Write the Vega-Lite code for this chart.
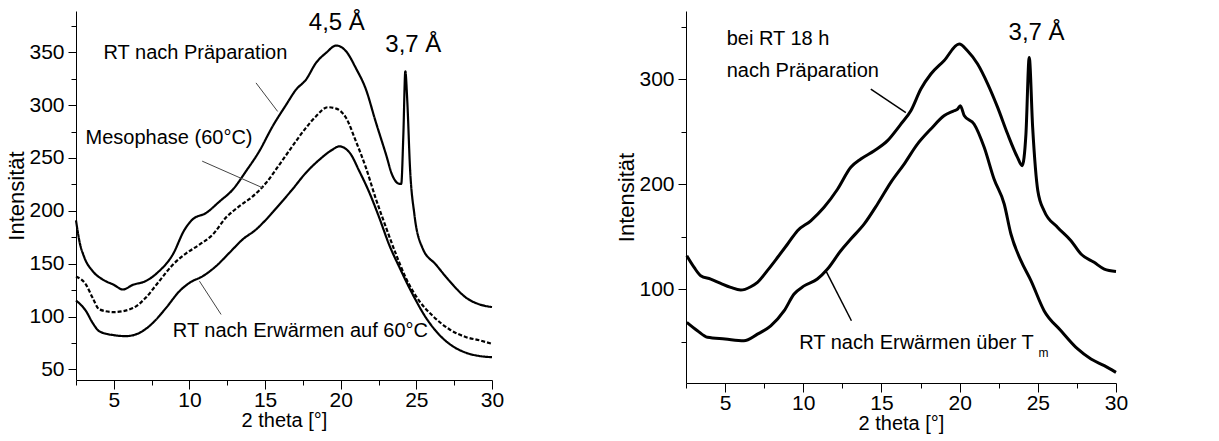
{
  "$schema": "https://vega.github.io/schema/vega-lite/v6.json",
  "padding": {"left": 5, "top": 10, "right": 5, "bottom": 5},
  "spacing": 111,
  "config": {
    "view": {"stroke": null},
    "axis": {"grid": false, "labelFlush": false, "domainColor": "#000", "tickColor": "#000", "labelColor": "#000", "titleColor": "#000", "labelFont": "Liberation Sans", "labelFontSize": 21, "titleFont": "Liberation Sans", "titleFontWeight": "normal"}
  },
  "datasets": {
    "curves": [
      {"panel":"A","series":"prep","x":2.5,"y":191},{"panel":"A","series":"prep","x":2.73,"y":171},{"panel":"A","series":"prep","x":3.06,"y":155.6},{"panel":"A","series":"prep","x":3.6,"y":143},{"panel":"A","series":"prep","x":4.27,"y":135},{"panel":"A","series":"prep","x":5.0,"y":130},{"panel":"A","series":"prep","x":5.6,"y":125.6},{"panel":"A","series":"prep","x":6.26,"y":130},{"panel":"A","series":"prep","x":7.1,"y":133.5},{"panel":"A","series":"prep","x":8.0,"y":143},{"panel":"A","series":"prep","x":8.9,"y":158.7},{"panel":"A","series":"prep","x":9.67,"y":182},{"panel":"A","series":"prep","x":10.2,"y":191.8},{"panel":"A","series":"prep","x":11.1,"y":198},{"panel":"A","series":"prep","x":12.0,"y":209},{"panel":"A","series":"prep","x":12.86,"y":220},{"panel":"A","series":"prep","x":13.74,"y":237.5},{"panel":"A","series":"prep","x":14.6,"y":256},{"panel":"A","series":"prep","x":15.5,"y":280},{"panel":"A","series":"prep","x":16.4,"y":300.5},{"panel":"A","series":"prep","x":17.05,"y":314.7},{"panel":"A","series":"prep","x":17.7,"y":324},{"panel":"A","series":"prep","x":18.37,"y":340},{"panel":"A","series":"prep","x":19.03,"y":349.4},{"panel":"A","series":"prep","x":19.7,"y":356.3},{"panel":"A","series":"prep","x":20.35,"y":351},{"panel":"A","series":"prep","x":21.0,"y":335},{"panel":"A","series":"prep","x":21.67,"y":314.7},{"panel":"A","series":"prep","x":22.3,"y":284.8},{"panel":"A","series":"prep","x":23.0,"y":253},{"panel":"A","series":"prep","x":23.4,"y":234},{"panel":"A","series":"prep","x":23.9,"y":225.5},{"panel":"A","series":"prep","x":24.0,"y":225.5},{"panel":"A","series":"prep","x":24.14,"y":272},{"panel":"A","series":"prep","x":24.27,"y":332},{"panel":"A","series":"prep","x":24.4,"y":303.7},{"panel":"A","series":"prep","x":24.58,"y":240.6},{"panel":"A","series":"prep","x":24.87,"y":196.5},{"panel":"A","series":"prep","x":25.4,"y":165},{"panel":"A","series":"prep","x":26.3,"y":149},{"panel":"A","series":"prep","x":27.2,"y":133.5},{"panel":"A","series":"prep","x":28.3,"y":117.7},{"panel":"A","series":"prep","x":29.2,"y":111.4},{"panel":"A","series":"prep","x":30.0,"y":109},
      {"panel":"A","series":"meso","x":2.5,"y":138},{"panel":"A","series":"meso","x":3.17,"y":130},{"panel":"A","series":"meso","x":3.6,"y":117.7},{"panel":"A","series":"meso","x":4.05,"y":106.7},{"panel":"A","series":"meso","x":5.0,"y":104.2},{"panel":"A","series":"meso","x":6.26,"y":108},{"panel":"A","series":"meso","x":7.1,"y":117.7},{"panel":"A","series":"meso","x":8.0,"y":133.5},{"panel":"A","series":"meso","x":8.9,"y":149},{"panel":"A","series":"meso","x":9.8,"y":160},{"panel":"A","series":"meso","x":10.66,"y":168},{"panel":"A","series":"meso","x":11.54,"y":177.6},{"panel":"A","series":"meso","x":12.4,"y":193.4},{"panel":"A","series":"meso","x":13.3,"y":204.4},{"panel":"A","series":"meso","x":14.2,"y":213.9},{"panel":"A","series":"meso","x":15.07,"y":226.5},{"panel":"A","series":"meso","x":15.95,"y":243.8},{"panel":"A","series":"meso","x":16.8,"y":261},{"panel":"A","series":"meso","x":17.7,"y":278.5},{"panel":"A","series":"meso","x":18.37,"y":289.5},{"panel":"A","series":"meso","x":19.14,"y":298},{"panel":"A","series":"meso","x":19.7,"y":296.7},{"panel":"A","series":"meso","x":20.35,"y":288},{"panel":"A","series":"meso","x":21.0,"y":265.9},{"panel":"A","series":"meso","x":21.67,"y":240.6},{"panel":"A","series":"meso","x":22.3,"y":212.3},{"panel":"A","series":"meso","x":23.0,"y":184},{"panel":"A","series":"meso","x":23.66,"y":158.7},{"panel":"A","series":"meso","x":24.3,"y":136.6},{"panel":"A","series":"meso","x":25.2,"y":114.6},{"panel":"A","series":"meso","x":26.1,"y":100.4},{"panel":"A","series":"meso","x":27.2,"y":87.8},{"panel":"A","series":"meso","x":28.3,"y":80.5},{"panel":"A","series":"meso","x":29.2,"y":77.4},{"panel":"A","series":"meso","x":30.0,"y":74.2},
      {"panel":"A","series":"heat","x":2.5,"y":115.2},{"panel":"A","series":"heat","x":3.17,"y":105},{"panel":"A","series":"heat","x":3.6,"y":94},{"panel":"A","series":"heat","x":4.05,"y":86},{"panel":"A","series":"heat","x":5.0,"y":82.4},{"panel":"A","series":"heat","x":5.8,"y":81.5},{"panel":"A","series":"heat","x":6.7,"y":84.6},{"panel":"A","series":"heat","x":7.58,"y":94},{"panel":"A","series":"heat","x":8.46,"y":108.3},{"panel":"A","series":"heat","x":9.34,"y":124},{"panel":"A","series":"heat","x":10.0,"y":131.9},{"panel":"A","series":"heat","x":10.88,"y":138.2},{"panel":"A","series":"heat","x":11.76,"y":147.7},{"panel":"A","series":"heat","x":12.64,"y":160.3},{"panel":"A","series":"heat","x":13.52,"y":173},{"panel":"A","series":"heat","x":14.4,"y":182.3},{"panel":"A","series":"heat","x":15.07,"y":191.8},{"panel":"A","series":"heat","x":15.95,"y":206},{"panel":"A","series":"heat","x":16.8,"y":220.2},{"panel":"A","series":"heat","x":17.7,"y":236},{"panel":"A","series":"heat","x":18.6,"y":248.5},{"panel":"A","series":"heat","x":19.47,"y":258},{"panel":"A","series":"heat","x":19.9,"y":261},{"panel":"A","series":"heat","x":20.6,"y":254.8},{"panel":"A","series":"heat","x":21.23,"y":237.5},{"panel":"A","series":"heat","x":21.9,"y":217},{"panel":"A","series":"heat","x":22.55,"y":193.4},{"panel":"A","series":"heat","x":23.2,"y":168},{"panel":"A","series":"heat","x":23.9,"y":146},{"panel":"A","series":"heat","x":24.76,"y":120.9},{"panel":"A","series":"heat","x":25.64,"y":98.8},{"panel":"A","series":"heat","x":26.5,"y":83},{"panel":"A","series":"heat","x":27.4,"y":72},{"panel":"A","series":"heat","x":28.3,"y":65.7},{"panel":"A","series":"heat","x":29.2,"y":62.6},{"panel":"A","series":"heat","x":30.0,"y":61.6},
      {"panel":"B","series":"rt18","x":2.55,"y":131.7},{"panel":"B","series":"rt18","x":3.02,"y":120.6},{"panel":"B","series":"rt18","x":3.44,"y":112.7},{"panel":"B","series":"rt18","x":4.08,"y":109.5},{"panel":"B","series":"rt18","x":4.72,"y":105.4},{"panel":"B","series":"rt18","x":5.36,"y":101.6},{"panel":"B","series":"rt18","x":6.0,"y":99},{"panel":"B","series":"rt18","x":6.64,"y":102.2},{"panel":"B","series":"rt18","x":7.07,"y":106.3},{"panel":"B","series":"rt18","x":7.7,"y":117.5},{"panel":"B","series":"rt18","x":8.35,"y":130},{"panel":"B","series":"rt18","x":9.0,"y":142.9},{"panel":"B","series":"rt18","x":9.63,"y":155.6},{"panel":"B","series":"rt18","x":10.48,"y":165},{"panel":"B","series":"rt18","x":11.33,"y":177.8},{"panel":"B","series":"rt18","x":12.19,"y":195},{"panel":"B","series":"rt18","x":13.04,"y":215.9},{"panel":"B","series":"rt18","x":13.68,"y":223.8},{"panel":"B","series":"rt18","x":14.54,"y":231.7},{"panel":"B","series":"rt18","x":15.39,"y":241.3},{"panel":"B","series":"rt18","x":16.24,"y":257},{"panel":"B","series":"rt18","x":16.88,"y":269.8},{"panel":"B","series":"rt18","x":17.52,"y":290.5},{"panel":"B","series":"rt18","x":18.16,"y":304.8},{"panel":"B","series":"rt18","x":19.0,"y":317.5},{"panel":"B","series":"rt18","x":19.97,"y":333.3},{"panel":"B","series":"rt18","x":20.5,"y":327},{"panel":"B","series":"rt18","x":21.15,"y":314.3},{"panel":"B","series":"rt18","x":21.8,"y":295.2},{"panel":"B","series":"rt18","x":22.43,"y":273},{"panel":"B","series":"rt18","x":23.07,"y":247.6},{"panel":"B","series":"rt18","x":23.7,"y":225.4},{"panel":"B","series":"rt18","x":24.0,"y":217.5},{"panel":"B","series":"rt18","x":24.24,"y":247.6},{"panel":"B","series":"rt18","x":24.45,"y":320.6},{"panel":"B","series":"rt18","x":24.67,"y":254},{"panel":"B","series":"rt18","x":25.0,"y":193.7},{"panel":"B","series":"rt18","x":25.4,"y":174.6},{"panel":"B","series":"rt18","x":26.27,"y":158.7},{"panel":"B","series":"rt18","x":27.12,"y":146},{"panel":"B","series":"rt18","x":27.76,"y":133.3},{"panel":"B","series":"rt18","x":28.6,"y":125.4},{"panel":"B","series":"rt18","x":29.25,"y":119},{"panel":"B","series":"rt18","x":30.0,"y":116.8},
      {"panel":"B","series":"tm","x":2.55,"y":68.3},{"panel":"B","series":"tm","x":3.23,"y":60.3},{"panel":"B","series":"tm","x":3.87,"y":54},{"panel":"B","series":"tm","x":5.0,"y":52.4},{"panel":"B","series":"tm","x":6.2,"y":50.8},{"panel":"B","series":"tm","x":7.07,"y":57},{"panel":"B","series":"tm","x":7.92,"y":65},{"panel":"B","series":"tm","x":8.78,"y":79.4},{"panel":"B","series":"tm","x":9.4,"y":95},{"panel":"B","series":"tm","x":10.05,"y":103},{"panel":"B","series":"tm","x":10.9,"y":109.5},{"panel":"B","series":"tm","x":11.55,"y":119},{"panel":"B","series":"tm","x":12.4,"y":136.5},{"panel":"B","series":"tm","x":13.04,"y":147.6},{"panel":"B","series":"tm","x":13.9,"y":162},{"panel":"B","series":"tm","x":14.75,"y":181},{"panel":"B","series":"tm","x":15.6,"y":201.6},{"panel":"B","series":"tm","x":16.45,"y":219},{"panel":"B","series":"tm","x":17.3,"y":238},{"panel":"B","series":"tm","x":18.16,"y":252.4},{"panel":"B","series":"tm","x":19.0,"y":265},{"panel":"B","series":"tm","x":19.65,"y":269.8},{"panel":"B","series":"tm","x":19.87,"y":271.4},{"panel":"B","series":"tm","x":20.04,"y":274.6},{"panel":"B","series":"tm","x":20.3,"y":265},{"panel":"B","series":"tm","x":20.93,"y":257},{"panel":"B","series":"tm","x":21.57,"y":235},{"panel":"B","series":"tm","x":22.2,"y":204.8},{"panel":"B","series":"tm","x":22.85,"y":181},{"panel":"B","series":"tm","x":23.28,"y":152.4},{"panel":"B","series":"tm","x":23.92,"y":127},{"panel":"B","series":"tm","x":24.56,"y":108},{"panel":"B","series":"tm","x":25.4,"y":79.4},{"panel":"B","series":"tm","x":26.48,"y":60.3},{"panel":"B","series":"tm","x":27.55,"y":42.9},{"panel":"B","series":"tm","x":28.4,"y":33.3},{"panel":"B","series":"tm","x":29.25,"y":27},{"panel":"B","series":"tm","x":30.0,"y":20.6}
    ],
    "leaders": [
      {"panel":"A","x1":14.4,"y1":321,"x2":15.83,"y2":294},
      {"panel":"A","x1":10.84,"y1":247,"x2":14.85,"y2":221.7},
      {"panel":"A","x1":10.66,"y1":133.5,"x2":12.09,"y2":102},
      {"panel":"B","x1":14.32,"y1":290.5,"x2":16.56,"y2":268},
      {"panel":"B","x1":11.44,"y1":117.5,"x2":13.08,"y2":69.8}
    ],
    "labels": [
      {"panel":"A","text":"RT nach Präparation","x":4.32,"y":349.4},
      {"panel":"A","text":"Mesophase (60°C)","x":3.13,"y":269},
      {"panel":"A","text":"RT nach Erwärmen auf 60°C","x":8.9,"y":86},
      {"panel":"B","text":"bei RT 18 h","x":5.1,"y":338},
      {"panel":"B","text":"nach Präparation","x":5.1,"y":308},
      {"panel":"B","text":"RT nach Erwärmen über T","x":9.74,"y":48.3}
    ],
    "peaks": [
      {"panel":"A","text":"4,5 Å","x":19.74,"y":377.7},
      {"panel":"A","text":"3,7 Å","x":24.8,"y":357},
      {"panel":"B","text":"3,7 Å","x":24.92,"y":344}
    ],
    "subs": [
      {"panel":"B","text":"m","x":25.37,"y":38.7}
    ]
  },
  "hconcat": [
    {
      "width": 416,
      "height": 369,
      "layer": [
        {
          "data": {"name": "curves"},
          "transform": [{"filter": "datum.panel == 'A'"}],
          "mark": {"type": "line", "color": "#000", "strokeWidth": 2.2, "interpolate": "monotone"},
          "encoding": {
            "x": {"field": "x", "type": "quantitative", "scale": {"domain": [2.5, 30], "nice": false, "zero": false},
                  "axis": {"orient": "bottom", "values": [5, 10, 15, 20, 25, 30], "tickSize": 9, "labelPadding": 0, "title": "2 theta [°]", "titleFontSize": 20, "titlePadding": 0}},
            "y": {"field": "y", "type": "quantitative", "scale": {"domain": [40, 389], "nice": false, "zero": false},
                  "axis": {"orient": "left", "values": [50, 100, 150, 200, 250, 300, 350], "tickSize": 8, "labelPadding": 4, "title": "Intensität", "titleFontSize": 22, "titlePadding": 0}},
            "detail": {"field": "series"},
            "strokeDash": {"field": "series", "type": "nominal", "scale": {"domain": ["prep", "meso", "heat"], "range": [[1, 0], [4, 2], [1, 0]]}, "legend": null}
          }
        },
        {
          "data": {"name": "leaders"},
          "transform": [{"filter": "datum.panel == 'A'"}],
          "mark": {"type": "rule", "color": "#444", "strokeWidth": 1},
          "encoding": {
            "x": {"field": "x1", "type": "quantitative", "axis": {"orient": "bottom", "values": [2.5, 7.5, 12.5, 17.5, 22.5, 27.5], "labels": false, "domain": false, "tickSize": 5, "title": null}},
            "y": {"field": "y1", "type": "quantitative", "axis": {"orient": "left", "values": [75, 125, 175, 225, 275, 325, 375], "labels": false, "domain": false, "tickSize": 5, "title": null}},
            "x2": {"field": "x2"},
            "y2": {"field": "y2"}
          }
        },
        {
          "data": {"name": "labels"},
          "transform": [{"filter": "datum.panel == 'A'"}],
          "mark": {"type": "text", "align": "left", "baseline": "middle", "fontSize": 20, "font": "Liberation Sans", "color": "#000"},
          "encoding": {
            "x": {"field": "x", "type": "quantitative", "axis": null},
            "y": {"field": "y", "type": "quantitative", "axis": null},
            "text": {"field": "text"}
          }
        },
        {
          "data": {"name": "peaks"},
          "transform": [{"filter": "datum.panel == 'A'"}],
          "mark": {"type": "text", "align": "center", "baseline": "middle", "fontSize": 24, "font": "Liberation Sans", "color": "#000"},
          "encoding": {
            "x": {"field": "x", "type": "quantitative", "axis": null},
            "y": {"field": "y", "type": "quantitative", "axis": null},
            "text": {"field": "text"}
          }
        }
      ],
      "resolve": {"axis": {"x": "independent", "y": "independent"}}
    },
    {
      "width": 430,
      "height": 372,
      "layer": [
        {
          "data": {"name": "curves"},
          "transform": [{"filter": "datum.panel == 'B'"}],
          "mark": {"type": "line", "color": "#000", "strokeWidth": 3, "interpolate": "monotone"},
          "encoding": {
            "x": {"field": "x", "type": "quantitative", "scale": {"domain": [2.5, 30], "nice": false, "zero": false},
                  "axis": {"orient": "bottom", "values": [5, 10, 15, 20, 25, 30], "tickSize": 9, "labelPadding": 0, "title": "2 theta [°]", "titleFontSize": 20, "titlePadding": 0}},
            "y": {"field": "y", "type": "quantitative", "scale": {"domain": [10.5, 364.8], "nice": false, "zero": false},
                  "axis": {"orient": "left", "values": [100, 200, 300], "tickSize": 8, "labelPadding": 4, "title": "Intensität", "titleFontSize": 22, "titlePadding": 0}},
            "detail": {"field": "series"}
          }
        },
        {
          "data": {"name": "leaders"},
          "transform": [{"filter": "datum.panel == 'B'"}],
          "mark": {"type": "rule", "color": "#000", "strokeWidth": 1.5},
          "encoding": {
            "x": {"field": "x1", "type": "quantitative", "axis": {"orient": "bottom", "values": [2.5, 7.5, 12.5, 17.5, 22.5, 27.5], "labels": false, "domain": false, "tickSize": 5, "title": null}},
            "y": {"field": "y1", "type": "quantitative", "axis": {"orient": "left", "values": [50, 150, 250, 350], "labels": false, "domain": false, "tickSize": 5, "title": null}},
            "x2": {"field": "x2"},
            "y2": {"field": "y2"}
          }
        },
        {
          "data": {"name": "labels"},
          "transform": [{"filter": "datum.panel == 'B'"}],
          "mark": {"type": "text", "align": "left", "baseline": "middle", "fontSize": 20, "font": "Liberation Sans", "color": "#000"},
          "encoding": {
            "x": {"field": "x", "type": "quantitative", "axis": null},
            "y": {"field": "y", "type": "quantitative", "axis": null},
            "text": {"field": "text"}
          }
        },
        {
          "data": {"name": "peaks"},
          "transform": [{"filter": "datum.panel == 'B'"}],
          "mark": {"type": "text", "align": "center", "baseline": "middle", "fontSize": 24, "font": "Liberation Sans", "color": "#000"},
          "encoding": {
            "x": {"field": "x", "type": "quantitative", "axis": null},
            "y": {"field": "y", "type": "quantitative", "axis": null},
            "text": {"field": "text"}
          }
        },
        {
          "data": {"name": "subs"},
          "transform": [{"filter": "datum.panel == 'B'"}],
          "mark": {"type": "text", "align": "center", "baseline": "middle", "fontSize": 12, "font": "Liberation Sans", "color": "#000"},
          "encoding": {
            "x": {"field": "x", "type": "quantitative", "axis": null},
            "y": {"field": "y", "type": "quantitative", "axis": null},
            "text": {"field": "text"}
          }
        }
      ],
      "resolve": {"axis": {"x": "independent", "y": "independent"}}
    }
  ]
}
